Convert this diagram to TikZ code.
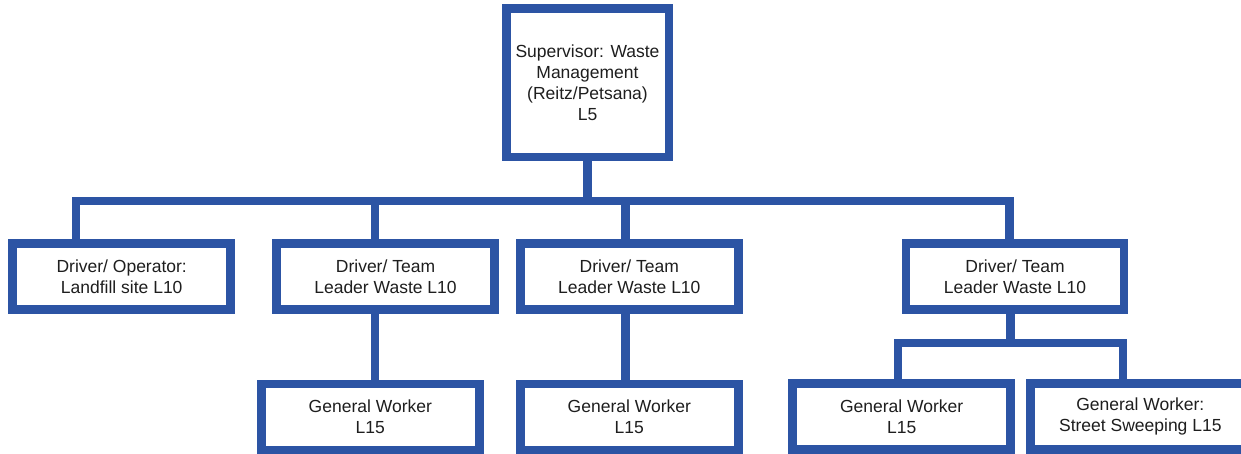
\documentclass[tikz,border=0pt]{standalone}
\usepackage{fontspec}
\setmainfont{Liberation Sans}
\definecolor{orgblue}{RGB}{44,84,164}
\definecolor{txtgray}{RGB}{30,30,30}
\begin{document}
\begin{tikzpicture}[x=1pt,y=-1pt,
  box/.style={draw=orgblue,line width=8.5pt,fill=white,rectangle,inner sep=0pt,outer sep=0pt,
    align=center,font=\fontsize{17.5}{21}\selectfont,text=txtgray},
  lvltwo/.style={box,minimum width=218pt,minimum height=66pt},
  lvlthree/.style={box,minimum width=218pt,minimum height=66pt},
  link/.style={draw=orgblue,line width=8.5pt,line join=miter}]
\useasboundingbox (0,0) rectangle (1241,453);
\clip (0,0) rectangle (1241,453);

% boxes
\node[box,minimum width=162.5pt,minimum height=148.5pt] (top) at (587.5,82.5)
  {Supervisor: Waste\\Management\\(Reitz/Petsana)\\L5};
\node[lvltwo] (b1) at (121.7,276.7) {Driver/ Operator:\\Landfill site L10};
\node[lvltwo] (b2) at (385.5,276.5) {Driver/ Team\\Leader Waste L10};
\node[lvltwo] (b3) at (629.3,276.7) {Driver/ Team\\Leader Waste L10};
\node[lvltwo] (b4) at (1015,276.7) {Driver/ Team\\Leader Waste L10};
\node[lvlthree] (c2) at (370.3,417.2) {General Worker\\L15};
\node[lvlthree] (c3) at (629.3,416.9) {General Worker\\L15};
\node[lvlthree] (c4a) at (901.7,416.6) {General Worker\\L15};
\node[box,minimum width=220pt,minimum height=66pt] (c4b) at (1140.3,416.6) {General Worker:\\Street Sweeping L15};

% bus coordinates
\coordinate (bus1) at (76,201);
\coordinate (bus2) at (375,201);
\coordinate (bus3) at (625.5,201);
\coordinate (bus4) at (1009.5,201);
\coordinate (sub) at (1010.5,343);
\coordinate (subL) at (898,343);
\coordinate (subR) at (1123,343);

% connectors
\draw[link] (top.south) -- (top.south |- bus1);
\draw[link] (b1.north -| bus1) -- (bus1) -- (bus4) -- (b4.north -| bus4);
\draw[link] (b2.north -| bus2) -- (bus2);
\draw[link] (b3.north -| bus3) -- (bus3);
\draw[link] (b2.south -| bus2) -- (c2.north -| bus2);
\draw[link] (b3.south -| bus3) -- (c3.north -| bus3);
\draw[link] (b4.south -| sub) -- (sub);
\draw[link] (c4a.north -| subL) -- (subL) -- (subR) -- (c4b.north -| subR);
\end{tikzpicture}
\end{document}
